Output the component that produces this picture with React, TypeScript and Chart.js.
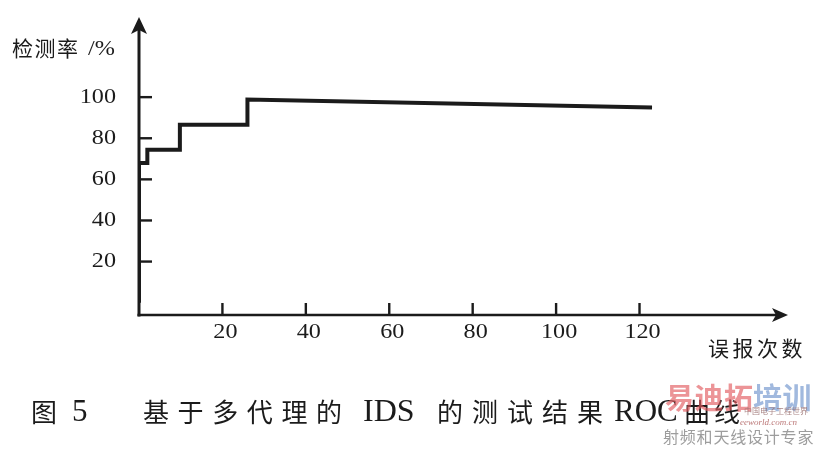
import React, { useEffect, useRef } from "react";
import { Chart, registerables } from "chart.js";

Chart.register(...registerables);

// ROC curve (false alarms vs detection rate %)
const falseAlarms = [0, 0, 2, 2, 9.8, 9.8, 26, 26, 123];
const detectionRate = [0, 68, 68, 74.4, 74.4, 86.6, 86.6, 98.8, 95];

const xTicks = [20, 40, 60, 80, 100, 120];
const yTicks = [20, 40, 60, 80, 100];

const yTitle = "检测率";
const yUnit = "/%";
const xTitle = "误报次数";

const INK = "#1b1b1b";
const CJK = '"Noto Sans CJK SC", sans-serif';
const SERIF = '"Liberation Serif", "DejaVu Serif", serif';

function stretchText(ctx: CanvasRenderingContext2D, text: string, x: number, y: number, align: CanvasTextAlign, sx: number) {
  ctx.save();
  ctx.translate(x, y);
  ctx.scale(sx, 1);
  ctx.textAlign = align;
  ctx.fillText(text, 0, 0);
  ctx.restore();
}

function spacedText(ctx: CanvasRenderingContext2D, text: string, x: number, y: number, pitch: number) {
  const chars = Array.from(text);
  chars.forEach((c, i) => {
    ctx.fillText(c, x + i * pitch, y);
  });
}

const axesPlugin = {
  id: "scanAxes",
  beforeDatasetsDraw(chart: any) {
    const { ctx, chartArea, scales } = chart;
    const { left, top, right, bottom } = chartArea;
    const xs = scales.x;
    const ys = scales.y;
    ctx.save();
    ctx.strokeStyle = INK;
    ctx.fillStyle = INK;
    ctx.lineWidth = 3;
    ctx.lineCap = "butt";

    // y axis with arrow
    ctx.beginPath();
    ctx.moveTo(left, bottom + 1.5);
    ctx.lineTo(left, top + 12);
    ctx.stroke();
    ctx.beginPath();
    ctx.moveTo(left, top);
    ctx.lineTo(left - 8, top + 17);
    ctx.lineTo(left, top + 13);
    ctx.lineTo(left + 8, top + 17);
    ctx.closePath();
    ctx.fill();

    // x axis with arrow
    ctx.lineWidth = 2.6;
    ctx.beginPath();
    ctx.moveTo(left - 1.5, bottom);
    ctx.lineTo(right - 12, bottom);
    ctx.stroke();
    ctx.beginPath();
    ctx.moveTo(right, bottom);
    ctx.lineTo(right - 16, bottom - 7);
    ctx.lineTo(right - 12, bottom);
    ctx.lineTo(right - 16, bottom + 7);
    ctx.closePath();
    ctx.fill();

    // ticks
    ctx.lineWidth = 2.4;
    yTicks.forEach((v) => {
      const py = ys.getPixelForValue(v);
      ctx.beginPath();
      ctx.moveTo(left, py);
      ctx.lineTo(left + 13, py);
      ctx.stroke();
    });
    xTicks.forEach((v) => {
      const px = xs.getPixelForValue(v);
      ctx.beginPath();
      ctx.moveTo(px, bottom);
      ctx.lineTo(px, bottom - 12);
      ctx.stroke();
    });

    // tick labels
    ctx.font = `21px ${SERIF}`;
    ctx.textBaseline = "middle";
    yTicks.forEach((v) => {
      const py = ys.getPixelForValue(v);
      stretchText(ctx, String(v), left - 23, py, "right", 1.15);
    });
    xTicks.forEach((v) => {
      const px = xs.getPixelForValue(v);
      stretchText(ctx, String(v), px + 3, bottom + 17, "center", 1.15);
    });

    // axis titles
    ctx.font = `21px ${CJK}`;
    ctx.textAlign = "left";
    spacedText(ctx, yTitle, 12, 48, 22.5);
    ctx.font = `22px ${SERIF}`;
    stretchText(ctx, yUnit, 88, 49, "left", 1.1);
    ctx.font = `21px ${CJK}`;
    ctx.textAlign = "left";
    spacedText(ctx, xTitle, 708, 348, 24.5);

    ctx.restore();
  },
  afterDraw(chart: any) {
    const { ctx } = chart;
    ctx.save();
    ctx.fillStyle = INK;
    ctx.textBaseline = "middle";
    ctx.textAlign = "left";
    const cy = 412;
    ctx.font = `26px ${CJK}`;
    ctx.fillText("图", 31, cy);
    ctx.font = `31px ${SERIF}`;
    stretchText(ctx, "5", 72, cy + 1, "left", 1.0);
    ctx.font = `26px ${CJK}`;
    spacedText(ctx, "基于多代理的", 143, cy, 34.6);
    ctx.font = `32px ${SERIF}`;
    stretchText(ctx, "IDS", 363, cy + 1, "left", 1.0);
    ctx.font = `26px ${CJK}`;
    spacedText(ctx, "的测试结果", 437, cy, 35);
    ctx.font = `31px ${SERIF}`;
    stretchText(ctx, "ROC", 614, cy + 1, "left", 1.0);
    ctx.font = `26px ${CJK}`;
    spacedText(ctx, "曲线", 684, cy, 30);

    // watermark
    ctx.globalAlpha = 0.65;
    ctx.font = `bold 29px ${CJK}`;
    ctx.fillStyle = "#e25a5f";
    spacedText(ctx, "易迪拓", 665, 398, 29.5);
    ctx.fillStyle = "#6f93cc";
    spacedText(ctx, "培训", 753, 398, 29.5);
    ctx.globalAlpha = 0.85;
    ctx.fillStyle = "#8c8c8c";
    ctx.font = `16px ${CJK}`;
    spacedText(ctx, "射频和天线设计专家", 663, 437, 16.8);
    ctx.font = `8px ${CJK}`;
    ctx.fillStyle = "#9a7070";
    ctx.fillText("中国电子工程世界", 744, 411);
    ctx.font = `italic 9px ${SERIF}`;
    ctx.fillStyle = "#b06060";
    ctx.fillText("eeworld.com.cn", 740, 423);
    ctx.restore();
  },
};

export default function App() {
  const ref = useRef<HTMLCanvasElement | null>(null);

  useEffect(() => {
    if (!ref.current) return;
    const points = falseAlarms.map((x, i) => ({ x, y: detectionRate[i] }));
    const chart = new Chart(ref.current, {
      type: "line",
      data: {
        datasets: [
          {
            data: points,
            borderColor: INK,
            borderWidth: 4,
            pointRadius: 0,
            tension: 0,
            fill: false,
            borderJoinStyle: "miter",
            borderCapStyle: "butt",
          },
        ],
      },
      options: {
        animation: false,
        responsive: false,
        maintainAspectRatio: false,
        layout: { padding: { left: 139, right: 31, top: 17, bottom: 134 } },
        plugins: { legend: { display: false }, tooltip: { enabled: false } },
        scales: {
          x: { type: "linear", display: false, min: 0, max: 155.6 },
          y: { type: "linear", display: false, min: -6, max: 139 },
        },
      },
      plugins: [axesPlugin],
    });
    return () => chart.destroy();
  }, []);

  return (
    <div style={{ position: "fixed", left: 0, top: 0, width: 819, height: 449, background: "#fff" }}>
      <canvas ref={ref} width={819} height={449} style={{ width: 819, height: 449, display: "block" }} />
    </div>
  );
}
